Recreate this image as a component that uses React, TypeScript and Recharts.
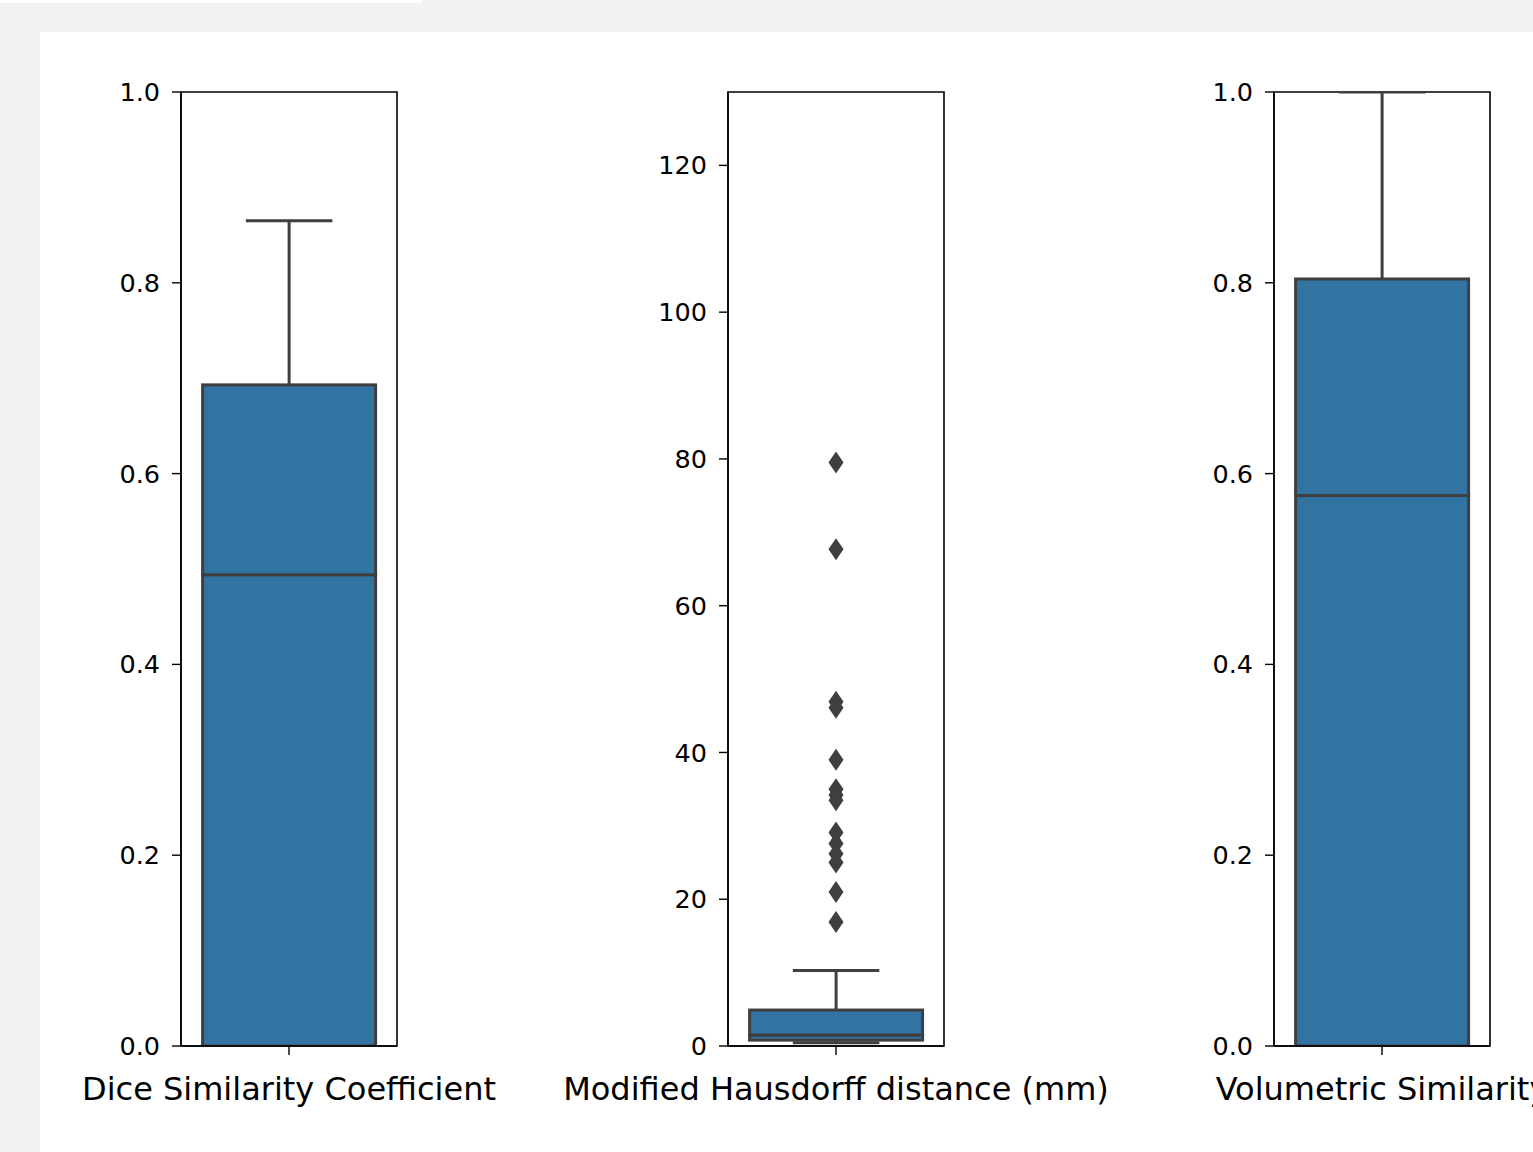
import React from "react";
import {
  ComposedChart,
  Bar,
  Scatter,
  XAxis,
  YAxis,
  ReferenceArea,
} from "recharts";

// box stats: [lower whisker, q1, median, q3, upper whisker]
const labels = [
  "Dice Similarity Coefficient",
  "Modified Hausdorff distance (mm)",
  "Volumetric Similarity",
];
const dscBox = [0, 0, 0.494, 0.693, 0.865];
const mhdBox = [0.45, 0.8, 1.5, 4.9, 10.3];
const vsBox = [0, 0, 0.577, 0.804, 1.0];

const mhdOutliers = [
  79.5, 67.7, 46.9, 46.1, 39.0, 35.0, 34.2, 33.5, 29.1, 27.6, 26.2, 25.0, 21.0,
  16.9,
];

const ratioTicks = [0, 0.2, 0.4, 0.6, 0.8, 1.0];
const mmTicks = [0, 20, 40, 60, 80, 100, 120];

const BOX_FILL = "#3274a1";
const LINE = "#3f3f3f";
const FONT = "DejaVu Sans, sans-serif";

const BoxHalf = (p: any) => (
  <rect
    x={p.x}
    y={p.y}
    width={p.width}
    height={Math.max(p.height, 0)}
    fill={BOX_FILL}
    stroke={LINE}
    strokeWidth={3}
  />
);

const WhiskerUp = (p: any) => {
  const cx = p.x + p.width / 2;
  return (
    <g stroke={LINE} strokeWidth={3}>
      <line x1={cx} x2={cx} y1={p.y} y2={p.y + p.height} />
      <line x1={p.x + p.width / 4} x2={p.x + (p.width * 3) / 4} y1={p.y} y2={p.y} />
    </g>
  );
};

const WhiskerDown = (p: any) => {
  const cx = p.x + p.width / 2;
  const yb = p.y + p.height;
  return (
    <g stroke={LINE} strokeWidth={3}>
      <line x1={cx} x2={cx} y1={p.y} y2={yb} />
      <line x1={p.x + p.width / 4} x2={p.x + (p.width * 3) / 4} y1={yb} y2={yb} />
    </g>
  );
};

const Diamond = (p: any) => {
  const { cx, cy } = p;
  if (cx == null || cy == null) return <g />;
  return (
    <polygon
      points={`${cx},${cy - 11} ${cx + 7.5},${cy} ${cx},${cy + 11} ${cx - 7.5},${cy}`}
      fill={LINE}
    />
  );
};

// single-line category label, no wrapping
const CatTick = (p: any) => (
  <text
    x={p.x}
    y={p.y}
    dy="0.71em"
    textAnchor="middle"
    fontSize={32}
    fill="#000"
    fontFamily={FONT}
  >
    {p.payload.value}
  </text>
);

interface PanelProps {
  label: string;
  stats: number[];
  outliers: number[];
  domain: [number, number];
  ticks: number[];
  fmt: (v: number) => string;
  left: number;
}

const BoxPanel: React.FC<PanelProps> = ({
  label,
  stats,
  outliers,
  domain,
  ticks,
  fmt,
  left,
}) => {
  const [lw, q1, med, q3, uw] = stats;
  const data = [
    {
      name: label,
      base: lw,
      lowW: q1 - lw,
      lowBox: med - q1,
      highBox: q3 - med,
      highW: uw - q3,
    },
  ];
  const points = outliers.map((v) => ({ name: label, value: v }));
  return (
    <div style={{ position: "absolute", left, top: 0 }}>
      <ComposedChart
        width={700}
        height={1152}
        data={data}
        barCategoryGap="10%"
        margin={{ top: 92, right: 294, bottom: 0, left: 100 }}
      >
        <XAxis
          dataKey="name"
          type="category"
          allowDuplicatedCategory={false}
          height={106}
          tickSize={9}
          tickMargin={22}
          stroke="#000"
          strokeWidth={1.4}
          tick={CatTick}
        />
        <YAxis
          type="number"
          domain={domain}
          ticks={ticks}
          allowDataOverflow
          tickFormatter={fmt}
          width={90}
          tickSize={9}
          tickMargin={12}
          stroke="#000"
          strokeWidth={1.4}
          tick={{ fontSize: 25.5, fill: "#000", fontFamily: FONT }}
        />
        <Bar dataKey="base" stackId="b" fill="none" isAnimationActive={false} />
        <Bar dataKey="lowW" stackId="b" shape={WhiskerDown} isAnimationActive={false} />
        <Bar dataKey="lowBox" stackId="b" shape={BoxHalf} isAnimationActive={false} />
        <Bar dataKey="highBox" stackId="b" shape={BoxHalf} isAnimationActive={false} />
        <Bar dataKey="highW" stackId="b" shape={WhiskerUp} isAnimationActive={false} />
        <Scatter
          data={points}
          dataKey="value"
          shape={Diamond}
          isAnimationActive={false}
        />
        <ReferenceArea
          y1={domain[0]}
          y2={domain[1]}
          fill="none"
          stroke="#000"
          strokeWidth={1.6}
          ifOverflow="visible"
        />
      </ComposedChart>
    </div>
  );
};

export default function App() {
  return (
    <div
      style={{
        position: "fixed",
        left: 0,
        top: 0,
        width: 1533,
        height: 1152,
        background: "#f2f2f2",
        overflow: "hidden",
        fontFamily: FONT,
      }}
    >
      <div
        style={{ position: "absolute", left: 0, top: 0, width: 422, height: 3, background: "#fff" }}
      />
      <div
        style={{ position: "absolute", left: 40, top: 32, right: 0, bottom: 0, background: "#fff" }}
      />
      <BoxPanel
        label={labels[0]}
        stats={dscBox}
        outliers={[]}
        domain={[0, 1]}
        ticks={ratioTicks}
        fmt={(v) => v.toFixed(1)}
        left={-9}
      />
      <BoxPanel
        label={labels[1]}
        stats={mhdBox}
        outliers={mhdOutliers}
        domain={[0, 130]}
        ticks={mmTicks}
        fmt={(v) => String(v)}
        left={538}
      />
      <BoxPanel
        label={labels[2]}
        stats={vsBox}
        outliers={[]}
        domain={[0, 1]}
        ticks={ratioTicks}
        fmt={(v) => v.toFixed(1)}
        left={1084}
      />
    </div>
  );
}
